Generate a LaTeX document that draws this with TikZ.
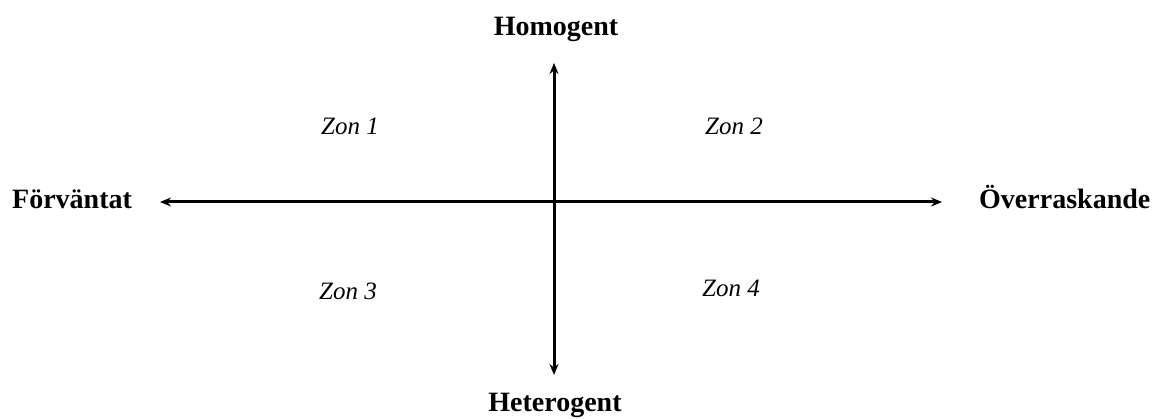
\documentclass[tikz,border=0pt]{standalone}
\usepackage{fontspec}
\setmainfont{Liberation Serif}
\usetikzlibrary{arrows.meta}

\tikzset{
    axislabel/.style={font=\fontsize{28}{30}\selectfont\bfseries, inner sep=0pt},
    zonelabel/.style={font=\fontsize{25}{28}\selectfont\itshape, inner sep=0pt, anchor=base},
    axis/.style={line width=3pt, {Stealth[length=11pt,width=9pt]}-{Stealth[length=11pt,width=9pt]}}
}

\begin{document}
\begin{tikzpicture}[x=1pt, y=-1pt]
    \useasboundingbox (0,0) rectangle (1162,419);

    % Axis labels
    \node[axislabel, anchor=base] (homogent) at (556,36) {Homogent};
    \node[axislabel, anchor=base] (heterogent) at (555,412) {Heterogent};
    \node[axislabel, anchor=base west] (forvantat) at (12,209) {Förväntat};
    \node[axislabel, anchor=base west] (overraskande) at (979,209) {Överraskande};

    % Axis ends
    \coordinate (left) at (160,202);
    \coordinate (right) at (942,202);
    \coordinate (top) at (554,63);
    \coordinate (bottom) at (554,375);

    % Axes
    \draw[axis] (left) -- (right);
    \draw[axis] (top) -- (bottom);

    % Zones
    \node[zonelabel] (zon1) at (350,135) {Zon 1};
    \node[zonelabel] (zon2) at (734,135) {Zon 2};
    \node[zonelabel] (zon3) at (348,300) {Zon 3};
    \node[zonelabel] (zon4) at (731,297) {Zon 4};
\end{tikzpicture}
\end{document}
